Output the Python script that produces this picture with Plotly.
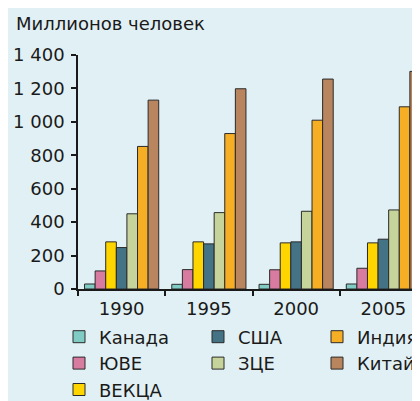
import plotly.graph_objects as go

years = ["1990", "1995", "2000", "2005"]
series_names = ["Канада", "ЮВЕ", "ВЕКЦА", "США", "ЗЦЕ", "Индия", "Китай"]
canada = [30, 28, 28, 30]
yuve = [108, 116, 115, 124]
vekca = [282, 282, 276, 276]
usa = [248, 270, 282, 298]
zce = [450, 457, 465, 473]
india = [853, 930, 1010, 1090]
china = [1130, 1198, 1256, 1302]
y_ticks = [0, 200, 400, 600, 800, 1000, 1200, 1400]
y_tick_labels = ["0", "200", "400", "600", "800", "1 000", "1 200", "1 400"]

values = [canada, yuve, vekca, usa, zce, india, china]
colors = ["#80CBC4", "#D87BA0", "#FFD500", "#447385", "#C6D49C", "#F6AF25", "#B8855F"]
legend_ids = ["legend", "legend", "legend", "legend2", "legend2", "legend3", "legend3"]

fig = go.Figure()
for name, vals, col, lg in zip(series_names, values, colors, legend_ids):
    fig.add_trace(go.Bar(
        x=years, y=vals, name=name, legend=lg,
        marker=dict(color=col, line=dict(color="#2a2a2a", width=1)),
    ))

bg = "#E1F0F4"
fam = "DejaVu Sans, Verdana, sans-serif"
font = dict(family=fam, size=18, color="#1a1a1a")
W, H, L, R, T, B = 420, 401, 70, 1, 47, 120
pw = W - L - R


def px2paper(px):
    return (px - L) / pw


legend_common = dict(
    orientation="v", yanchor="top", xanchor="left", y=1 - 310.5 / H, yref="container",
    bgcolor="rgba(0,0,0,0)", font=font, tracegroupgap=0,
    itemclick=False, itemdoubleclick=False,
)

fig.update_layout(
    width=W, height=H,
    paper_bgcolor=bg, plot_bgcolor=bg,
    margin=dict(l=L, r=R, t=T, b=B, autoexpand=False),
    font=font,
    barmode="group", bargap=0.15, bargroupgap=0,
    showlegend=True,
    legend=dict(x=px2paper(51), **legend_common),
    legend2=dict(x=px2paper(190), **legend_common),
    legend3=dict(x=px2paper(309), **legend_common),
    title=dict(text="Миллионов человек", x=8 / W, xanchor="left", xref="container",
               y=1 - 16 / H, yanchor="middle", yref="container",
               font=dict(family=fam, size=18, color="#1a1a1a")),
    xaxis=dict(
        showgrid=False, showline=True, linecolor="#1a1a1a", linewidth=1.5,
        ticks="outside", tickson="boundaries", ticklen=5, tickcolor="#1a1a1a", tickwidth=1.5,
        tickfont=font, ticklabelstandoff=3,
    ),
    yaxis=dict(
        range=[0, 1400], showgrid=False, showline=True, linecolor="#1a1a1a", linewidth=1.5,
        ticks="outside", ticklen=5, tickcolor="#1a1a1a", tickwidth=1.5,
        tickvals=y_ticks, ticktext=y_tick_labels, zeroline=False,
        tickfont=font, ticklabelstandoff=3,
    ),
)
fig.write_html("out.html")
